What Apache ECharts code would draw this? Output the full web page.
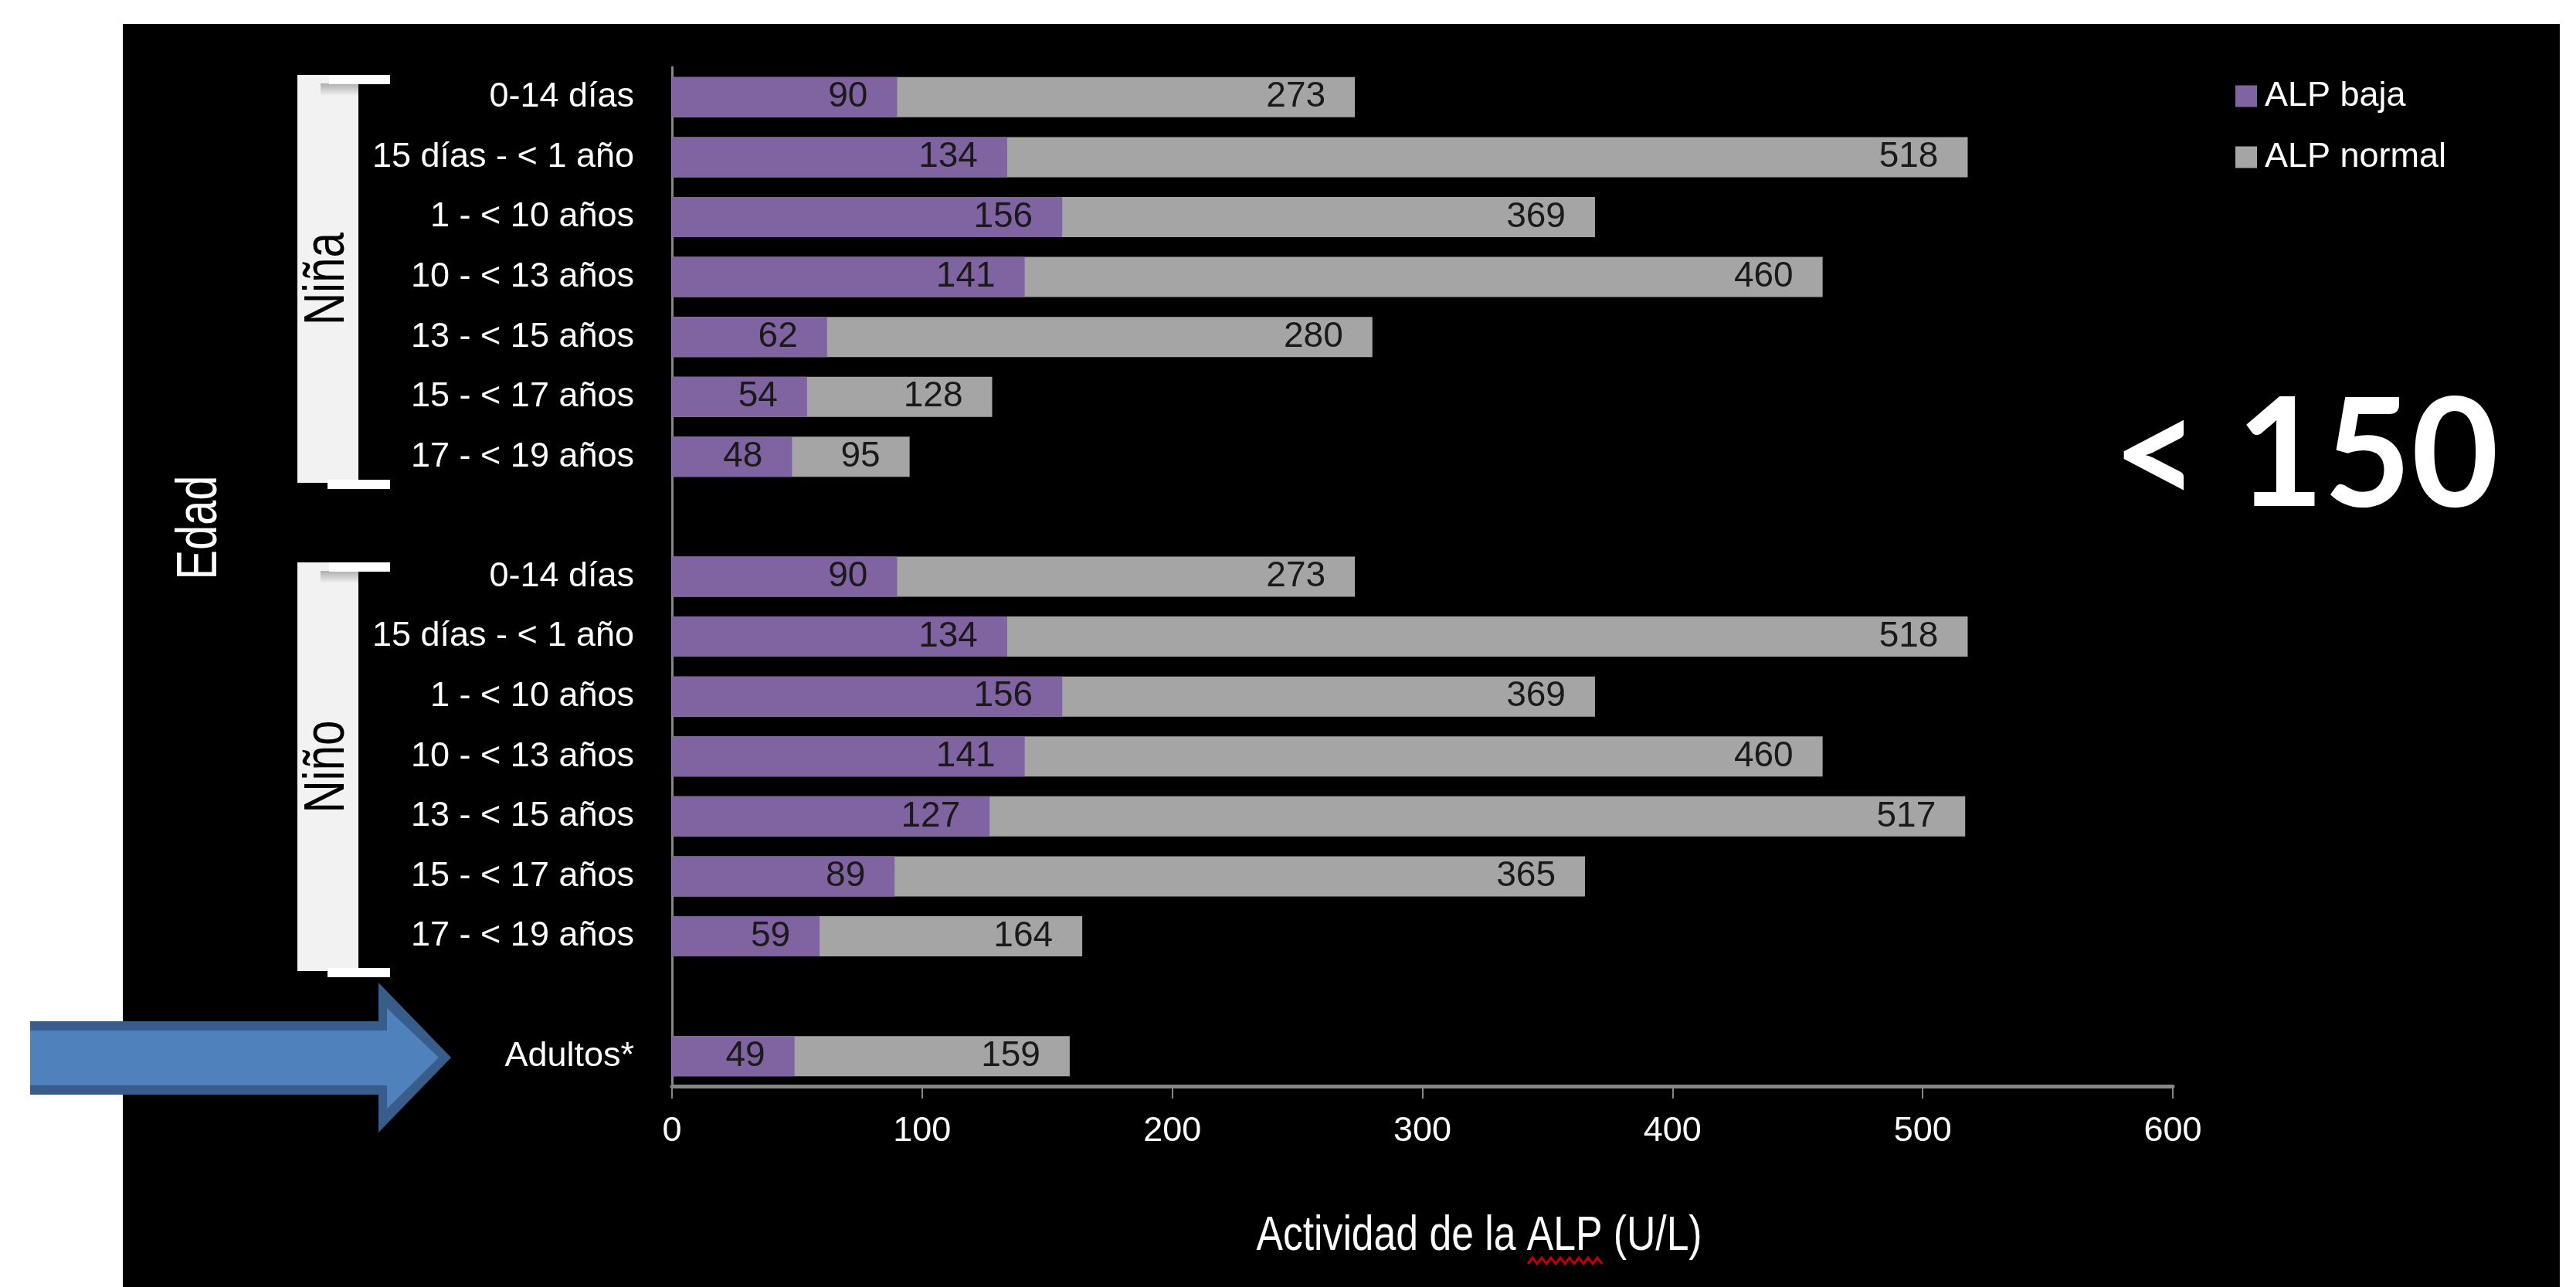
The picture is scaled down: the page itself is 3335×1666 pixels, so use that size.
<!DOCTYPE html>
<html>
<head>
<meta charset="utf-8">
<title>Actividad de la ALP por edad</title>
<script src="https://cdn.jsdelivr.net/npm/echarts@6/dist/echarts.min.js"></script>
<style>
  html, body { margin: 0; padding: 0; background: #fff; }
  #chart { width: 3335px; height: 1666px; }
</style>
</head>
<body>
<div id="chart"></div>
<script>
// filas de edad, de arriba abajo ('' = hueco entre grupos)
var categories = [
  '0-14 días', '15 días - < 1 año', '1 - < 10 años', '10 - < 13 años',
  '13 - < 15 años', '15 - < 17 años', '17 - < 19 años',
  '',
  '0-14 días', '15 días - < 1 año', '1 - < 10 años', '10 - < 13 años',
  '13 - < 15 años', '15 - < 17 años', '17 - < 19 años',
  '',
  'Adultos*'
]
var alpBaja = [90, 134, 156, 141, 62, 54, 48, null, 90, 134, 156, 141, 127, 89, 59, null, 49]
var alpNormal = [273, 518, 369, 460, 280, 128, 95, null, 273, 518, 369, 460, 517, 365, 164, null, 159]
var xTicks = [0, 100, 200, 300, 400, 500, 600]

var FONT = "'Liberation Sans', Arial, sans-serif"
var PURPLE = '#8064A2'
var GRAY = '#A5A5A5'
var AXIS = '#868686'

// texto estrecho: se comprime en horizontal como en la diapositiva original
function narrowText(x, y, text, size, squeeze, color, rotated) {
  return {
    type: 'text',
    x: x,
    y: y,
    rotation: rotated ? Math.PI / 2 : 0,
    scaleX: squeeze,
    style: {
      text: text, fill: color, fontSize: size, fontFamily: FONT,
      align: 'center', verticalAlign: 'middle', textAlign: 'center', textVerticalAlign: 'middle',
    },
  }
}

function bracket(top, bottom, label) {
  return [
    { type: 'rect', shape: { x: 385, y: top, width: 79, height: bottom - top }, style: { fill: '#f2f2f2' } },
    {
      type: 'rect',
      shape: { x: 415, y: top + 11, width: 49, height: 16 },
      style: {
        fill: new echarts.graphic.LinearGradient(0, 0, 0, 1, [
          { offset: 0, color: '#aeaeae' },
          { offset: 1, color: '#f2f2f2' },
        ]),
      },
    },
    { type: 'rect', shape: { x: 426, y: top, width: 79, height: 12 }, style: { fill: '#fff' } },
    { type: 'rect', shape: { x: 424, y: bottom - 4, width: 81, height: 12 }, style: { fill: '#fff' } },
    narrowText(425, (top + bottom) / 2, label, 74, 0.79, '#000', true),
  ]
}

var squiggle = []
for (var k = 0; k <= 16; k++) {
  squiggle.push([1978 + k * 6, k % 2 ? 1628 : 1636])
}

var chart = echarts.init(document.getElementById('chart'))
chart.setOption({
  backgroundColor: '#fff',
  animation: false,
  textStyle: { fontFamily: FONT },
  grid: { left: 870, right: 522, top: 87, bottom: 260 },
  legend: {
    data: ['ALP baja', 'ALP normal'],
    orient: 'vertical',
    left: 2889,
    top: 97,
    itemWidth: 28,
    itemHeight: 28,
    itemGap: 34,
    icon: 'rect',
    textStyle: { color: '#fff', fontSize: 45, fontFamily: FONT, padding: [0, 0, 0, 5] },
  },
  xAxis: {
    type: 'value',
    min: xTicks[0],
    max: xTicks[xTicks.length - 1],
    interval: xTicks[1] - xTicks[0],
    splitLine: { show: false },
    axisLine: { show: true, lineStyle: { color: AXIS, width: 5 } },
    axisTick: { show: true, length: 16, lineStyle: { color: AXIS, width: 2 } },
    axisLabel: { color: '#fff', fontSize: 45, margin: 36, fontFamily: FONT },
  },
  yAxis: {
    type: 'category',
    inverse: true,
    data: categories,
    axisLine: { show: true, lineStyle: { color: AXIS, width: 3 } },
    axisTick: { show: false },
    axisLabel: { color: '#fff', fontSize: 45, margin: 49, fontFamily: FONT },
  },
  series: [
    {
      name: 'ALP normal',
      type: 'bar',
      barWidth: 52,
      barGap: '-100%',
      itemStyle: { color: GRAY },
      label: { show: true, position: 'insideRight', distance: 38, color: '#1a1a1a', fontSize: 46, fontFamily: FONT },
      data: alpNormal,
    },
    {
      name: 'ALP baja',
      type: 'bar',
      barWidth: 52,
      barGap: '-100%',
      itemStyle: { color: PURPLE },
      label: { show: true, position: 'insideRight', distance: 38, color: '#1a1a1a', fontSize: 46, fontFamily: FONT },
      data: alpBaja,
    },
  ],
  graphic: [
    { type: 'rect', z: -100, silent: true, shape: { x: 159, y: 31, width: 3155, height: 1635 }, style: { fill: '#000' } },
    ...bracket(97, 625, 'Niña'),
    ...bracket(728, 1257, 'Niño'),
    narrowText(260, 683, 'Edad', 74, 0.78, '#fff', true),
    narrowText(1915, 1601, 'Actividad de la ALP (U/L)', 63, 0.82, '#fff', false),
    { type: 'polyline', shape: { points: squiggle }, style: { stroke: '#c00000', lineWidth: 3, fill: null } },
    {
      type: 'text', x: 2735, y: 592,
      style: {
        text: '< 150', fill: '#fff', fontSize: 195, fontWeight: 'bold', fontFamily: 'Lato, "Open Sans", sans-serif',
        align: 'left', verticalAlign: 'middle', textAlign: 'left', textVerticalAlign: 'middle',
      },
    },
    // flecha azul hacia Adultos*
    {
      type: 'polygon',
      shape: { points: [[39, 1322], [490, 1322], [490, 1272], [584, 1369], [490, 1466], [490, 1417], [39, 1417]] },
      style: { fill: '#385D8A' },
    },
    {
      type: 'polygon',
      shape: { points: [[39, 1334], [501, 1334], [501, 1305], [568, 1369], [501, 1435], [501, 1405], [39, 1405]] },
      style: { fill: '#4F81BD' },
    },
  ],
})
</script>
</body>
</html>
